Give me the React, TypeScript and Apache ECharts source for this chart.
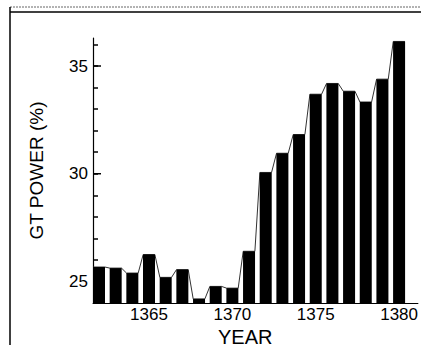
import React, { useEffect, useRef } from "react";
import * as echarts from "echarts";

const years = [1362, 1363, 1364, 1365, 1366, 1367, 1368, 1369, 1370, 1371, 1372, 1373, 1374, 1375, 1376, 1377, 1378, 1379, 1380];
const gtPower = [25.67, 25.62, 25.39, 26.25, 25.19, 25.55, 24.19, 24.77, 24.69, 26.4, 30.06, 30.95, 31.82, 33.69, 34.19, 33.83, 33.33, 34.39, 36.14];
const xTickLabels = [1365, 1370, 1375, 1380];
const yMajorTicks = [25, 30, 35];

const FONT = "'Liberation Sans', Arial, sans-serif";
const X_MIN = 1361.64;
const X_MAX = 1381.13;

export default function App() {
  const ref = useRef<HTMLDivElement>(null);
  useEffect(() => {
    if (!ref.current) return;
    const chart = echarts.init(ref.current, null, { renderer: "svg" });
    const half = 0.35;
    const barData = years.map((y, i) => [y, gtPower[i]]);
    const lineData: number[][] = [];
    years.forEach((y, i) => {
      lineData.push([y - half, gtPower[i]]);
      lineData.push([y + half, gtPower[i]]);
    });
    chart.setOption({
      animation: false,
      backgroundColor: "#fff",
      grid: { left: 93, right: 1, top: 38, bottom: 48 },
      xAxis: {
        type: "value",
        min: X_MIN,
        max: X_MAX,
        splitLine: { show: false },
        axisLine: { show: true, lineStyle: { color: "#000", width: 1 } },
        axisTick: { show: false },
        axisLabel: {
          customValues: xTickLabels,
          color: "#000",
          fontSize: 17,
          fontFamily: FONT,
          margin: 3,
          formatter: (v: number) => String(v),
        },
      },
      yAxis: {
        type: "value",
        min: 24,
        max: 36.3,
        interval: 1,
        splitLine: { show: false },
        name: "GT POWER (%)",
        nameLocation: "middle",
        nameGap: 47,
        nameTextStyle: { color: "#000", fontSize: 19, fontFamily: FONT },
        axisLine: { show: true, lineStyle: { color: "#000", width: 1.2 } },
        axisTick: {
          show: true,
          inside: true,
          length: 5,
          lineStyle: { color: "#000", width: 1.5 },
        },
        axisLabel: {
          color: "#000",
          fontSize: 17,
          fontFamily: FONT,
          margin: 5,
          showMaxLabel: false,
          formatter: (v: number) => (yMajorTicks.indexOf(v) >= 0 ? String(v) : ""),
        },
      },
      series: [
        {
          type: "bar",
          data: barData,
          barWidth: 12,
          itemStyle: { color: "#000" },
        },
        {
          type: "line",
          data: lineData,
          symbol: "none",
          lineStyle: { color: "#333", width: 1 },
          z: 1,
        },
        {
          type: "custom",
          silent: true,
          clip: false,
          data: yMajorTicks.map((v) => [X_MIN, v]),
          renderItem: (params: any, api: any) => {
            const p = api.coord([api.value(0), api.value(1)]);
            return {
              type: "line",
              shape: { x1: p[0], y1: p[1], x2: p[0] + 8, y2: p[1] },
              style: { stroke: "#000", lineWidth: 1.5 },
            };
          },
          z: 5,
        },
      ],
      graphic: [
        {
          type: "text",
          left: 248 - 30,
          top: 327,
          style: { text: "YEAR", fill: "#000", font: `20px ${FONT}` },
        },
        {
          type: "line",
          shape: { x1: 10, y1: 12, x2: 421, y2: 12 },
          style: { stroke: "#000", lineWidth: 1.5 },
        },
        {
          type: "line",
          shape: { x1: 10, y1: 7, x2: 421, y2: 7 },
          style: { stroke: "#666", lineWidth: 1, lineDash: [2, 1] },
        },
        {
          type: "line",
          shape: { x1: 10, y1: 7, x2: 10, y2: 345 },
          style: { stroke: "#000", lineWidth: 1.5 },
        },
      ],
    });
    return () => chart.dispose();
  }, []);
  return (
    <div
      ref={ref}
      style={{ position: "fixed", left: 0, top: 0, width: 421, height: 351 }}
    />
  );
}
